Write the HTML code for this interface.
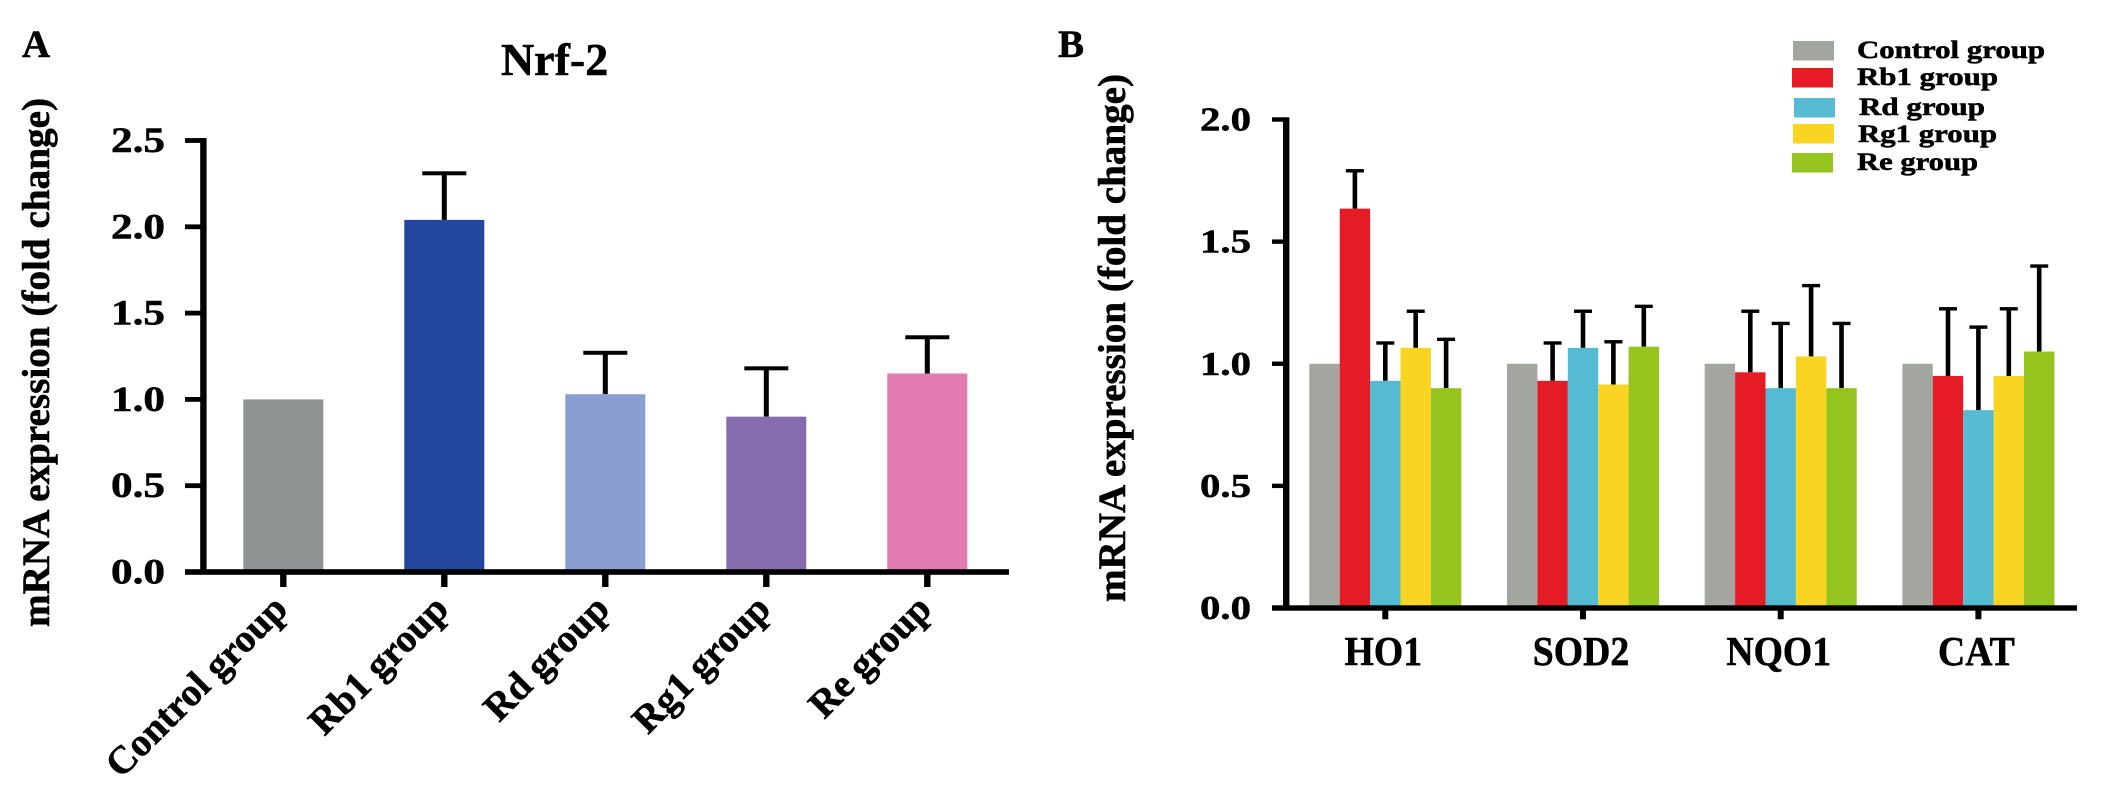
<!DOCTYPE html>
<html lang="en">
<head>
<meta charset="utf-8">
<title>mRNA expression charts</title>
<style>
html,body{margin:0;padding:0;background:#fff;width:2126px;height:810px;overflow:hidden}
svg{display:block}
text{font-family:"Liberation Serif",serif;font-weight:bold;fill:#000;stroke:#000;stroke-width:.55px}
</style>
</head>
<body>
<svg id="fig" xmlns="http://www.w3.org/2000/svg" width="2126" height="810" viewBox="0 0 2126 810">
  <rect x="0" y="0" width="2126" height="810" fill="#fff"/>
  <text x="22" y="57" font-size="39">A</text>
  <text x="1058" y="57" font-size="39">B</text>
  <text x="554.6" y="75" font-size="46" text-anchor="middle">Nrf-2</text>
  <text transform="translate(49,627) rotate(-90)" font-size="39" textLength="529" lengthAdjust="spacingAndGlyphs">mRNA expression (fold change)</text>
  <text transform="translate(1125,602) rotate(-90)" font-size="39" textLength="528" lengthAdjust="spacingAndGlyphs">mRNA expression (fold change)</text>
  <g id="chartA"></g>
  <g id="chartB"></g>
  <g>
    <g>
      <rect x="1793" y="41" width="41" height="19.5" fill="#a3a69e"/>
      <text x="1857" y="58" font-size="25" textLength="188" lengthAdjust="spacingAndGlyphs">Control group</text>
    </g>
    <g>
      <rect x="1792" y="68" width="41" height="19.5" fill="#e51c26"/>
      <text x="1857" y="85" font-size="25" textLength="141" lengthAdjust="spacingAndGlyphs">Rb1 group</text>
    </g>
    <g>
      <rect x="1794" y="98" width="41" height="19.5" fill="#54bbd3"/>
      <text x="1859" y="115" font-size="25" textLength="126" lengthAdjust="spacingAndGlyphs">Rd group</text>
    </g>
    <g>
      <rect x="1793" y="124" width="41" height="19.5" fill="#f9d423"/>
      <text x="1858" y="142" font-size="25" textLength="139" lengthAdjust="spacingAndGlyphs">Rg1 group</text>
    </g>
    <g>
      <rect x="1792" y="153" width="41" height="19.5" fill="#96c41f"/>
      <text x="1857" y="170" font-size="25" textLength="121" lengthAdjust="spacingAndGlyphs">Re group</text>
    </g>
  </g>
</svg>
<script>
// Chart A data
const categoriesA = ["Control group", "Rb1 group", "Rd group", "Rg1 group", "Re group"];
const valuesA = [1.0, 2.04, 1.03, 0.90, 1.15];
const errorsA = [0, 0.27, 0.24, 0.28, 0.21];
const yTicksA = ["0.0", "0.5", "1.0", "1.5", "2.0", "2.5"];
const colorsA = ["#8f9394", "#21469b", "#8a9fd1", "#856cad", "#e27bb0"];

// Chart B data
const categoriesB = ["HO1", "SOD2", "NQO1", "CAT"];
const seriesNamesB = ["control", "rb1", "rd", "rg1", "re"];
const controlB = [1.0, 1.0, 1.0, 1.0];
const rb1B = [1.635, 0.93, 0.965, 0.95];
const rdB = [0.93, 1.065, 0.90, 0.81];
const rg1B = [1.065, 0.915, 1.03, 0.95];
const reB = [0.90, 1.07, 0.90, 1.05];
const controlErrB = [0, 0, 0, 0];
const rb1ErrB = [0.155, 0.155, 0.25, 0.275];
const rdErrB = [0.155, 0.15, 0.265, 0.34];
const rg1ErrB = [0.15, 0.175, 0.29, 0.275];
const reErrB = [0.20, 0.165, 0.265, 0.35];
const yTicksB = ["0.0", "0.5", "1.0", "1.5", "2.0"];
const colorsB = ["#a3a69e", "#e51c26", "#54bbd3", "#f9d423", "#96c41f"];

const NS = "http://www.w3.org/2000/svg";
const gA = document.getElementById("chartA");
const gB = document.getElementById("chartB");

function shape(tag, parent, props) {
  const el = document.createElementNS(NS, tag);
  for (const k in props) el.setAttribute(k, props[k]);
  parent.appendChild(el);
  return el;
}

// Axis functions
const yA = v => 572 - (v / 2.5) * 431.5;
const xA = i => 283.3 + i * 161;
const yB = v => 608 - (v / 2.0) * 488.5;
const groupB = i => 1309.3 + i * 197.7;
const tickB = i => groupB(i) + 76;

// ---- Chart A ----
categoriesA.forEach((name, i) => {
  const v = valuesA[i], e = errorsA[i], cx = xA(i);
  if (e > 0) {
    const stem = shape("rect", gA, {x: cx - 2.5, y: yA(v + e), width: 5, height: yA(v) - yA(v + e), fill: "#000"});
    
    
    const cap = shape("rect", gA, {x: cx - 22, y: yA(v + e) - 2, width: 44, height: 4, fill: "#000"});
    
    
  }
  const bar = shape("rect", gA, {x: cx - 40, y: yA(v), width: 80, height: yA(0) - yA(v), fill: colorsA[i]});
  
  
  const tick = shape("rect", gA, {x: cx - 3.2, y: 572, width: 6.4, height: 15, fill: "#000"});
  
  
  const label = shape("text", gA, {"text-anchor": "end", "font-size": 39, transform: "translate(" + (cx + 6) + ",611) rotate(-45)"});
  label.textContent = name;
  
  
});
yTicksA.forEach(t => {
  const y = yA(parseFloat(t));
  const tick = shape("rect", gA, {x: 185, y: y - 2.4, width: 20, height: 4.8, fill: "#000"});
  
  
  const label = shape("text", gA, {x: 111, y: y + 11.5, "font-size": 36, textLength: 54, lengthAdjust: "spacingAndGlyphs"});
  label.textContent = t;
  
  
});
const axisYA = shape("rect", gA, {x: 200.2, y: yA(2.5) - 2.4, width: 6.4, height: yA(0) - yA(2.5) + 4.8, fill: "#000"});


const axisXA = shape("rect", gA, {x: 185, y: 569.2, width: 824, height: 5.6, fill: "#000"});



// ---- Chart B ----
const seriesB = [controlB, rb1B, rdB, rg1B, reB];
const errsB = [controlErrB, rb1ErrB, rdErrB, rg1ErrB, reErrB];
categoriesB.forEach((name, g) => {
  seriesB.forEach((vals, s) => {
    const v = vals[g], e = errsB[s][g];
    const left = groupB(g) + s * 30.4;
    const cx = left + 15.2;
    if (e > 0) {
      const stem = shape("rect", gB, {x: cx - 2.3, y: yB(v + e), width: 4.6, height: yB(v) - yB(v + e), fill: "#000"});
      
      
      const cap = shape("rect", gB, {x: cx - 9, y: yB(v + e) - 1.7, width: 18, height: 3.4, fill: "#000"});
      
      
    }
    const bar = shape("rect", gB, {x: left, y: yB(v), width: 30.4, height: yB(0) - yB(v), fill: colorsB[s]});
    
    
  });
  const tick = shape("rect", gB, {x: tickB(g) - 3, y: 607, width: 6, height: 12.3, fill: "#000"});
  
  
  const label = shape("text", gB, {"text-anchor": "middle", "font-size": 41, transform: "translate(" + (tickB(g) - 2) + ",665) scale(.92,1)"});
  label.textContent = name;
  
  
});
yTicksB.forEach(t => {
  const y = yB(parseFloat(t));
  const tick = shape("rect", gB, {x: 1272, y: y - 2.2, width: 14, height: 4.4, fill: "#000"});
  
  
  const label = shape("text", gB, {x: 1200, y: y + 11, "font-size": 34, textLength: 51, lengthAdjust: "spacingAndGlyphs"});
  label.textContent = t;
  
  
});
const axisYB = shape("rect", gB, {x: 1283, y: yB(2) - 2.2, width: 6.4, height: yB(0) - yB(2) + 4.4, fill: "#000"});


const axisXB = shape("rect", gB, {x: 1272, y: 605.3, width: 805, height: 5.4, fill: "#000"});


</script>
</body>
</html>
